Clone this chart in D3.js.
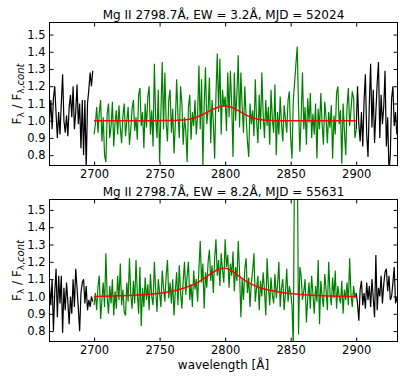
<!DOCTYPE html>
<meta charset="utf-8">
<style>
  body { margin: 0; background: #fff; }
  text { font-family: "DejaVu Sans", sans-serif; fill: #000; }
</style>
<body>
<script src="https://cdn.jsdelivr.net/npm/d3@7"></script>
<script>
// normalised flux, one value per 1 A pixel
var leftStart = 2666, lineStart = 2700, rightStart = 2900;

var topLeft = [
  1.00, 1.12, 0.95, 1.13, 1.20, 1.04, 0.90, 1.05, 0.92, 1.10,
  1.27, 1.00, 0.93, 1.03, 0.91, 1.08, 1.15, 1.02, 1.20, 0.95,
  1.05, 1.21, 0.98, 1.10, 0.84, 1.12, 0.80, 1.12, 0.72, 1.10,
  1.18, 1.28, 1.20, 1.29];

var topLine = [
  0.92, 0.98, 1.08, 0.93, 1.05, 1.12, 0.88, 1.02, 0.80, 0.76,
  1.04, 1.10, 0.90, 0.97, 1.11, 0.85, 0.99, 1.06, 0.92, 1.09,
  0.96, 0.87, 1.03, 1.10, 0.91, 1.00, 1.08, 0.86, 0.95, 1.07,
  1.12, 0.94, 1.02, 0.89, 1.15, 1.19, 0.97, 1.05, 0.84, 1.10,
  0.96, 1.14, 1.20, 0.92, 1.06, 0.85, 1.33, 1.02, 0.90, 1.18,
  0.76, 1.05, 1.34, 0.95, 1.28, 0.99, 0.88, 1.12, 1.18, 0.93,
  1.07, 0.81, 0.98, 1.24, 1.03, 0.90, 1.20, 1.10, 0.86, 1.02,
  0.94, 0.76, 1.08, 1.15, 0.89, 1.05, 0.97, 1.12, 0.92, 1.03,
  1.32, 0.95, 1.24, 0.74, 1.08, 1.31, 0.98, 1.06, 1.25, 0.87,
  1.12, 0.99, 0.78, 1.15, 1.39, 1.05, 1.36, 0.92, 1.18, 1.08,
  1.14, 0.94, 1.28, 1.02, 1.29, 1.10, 0.79, 1.28, 1.00, 1.16,
  1.38, 0.96, 1.28, 1.08, 0.93, 1.20, 1.03, 0.88, 0.79, 1.10,
  0.98, 1.06, 0.91, 1.24, 1.00, 0.87, 1.15, 0.95, 1.28, 1.04,
  0.90, 1.12, 0.97, 1.08, 0.86, 1.18, 1.01, 0.93, 1.21, 0.80,
  1.05, 0.92, 1.14, 0.98, 0.88, 1.09, 1.01, 0.93, 1.12, 1.17,
  0.90, 0.78, 1.12, 1.22, 1.33, 1.43, 1.08, 0.82, 1.02, 1.28,
  0.95, 1.08, 0.86, 1.13, 0.99, 1.16, 0.90, 1.04, 0.92, 1.10,
  0.78, 1.07, 0.95, 1.16, 0.98, 0.86, 1.11, 1.02, 0.87, 1.05,
  0.96, 1.09, 0.78, 1.03, 0.92, 1.16, 1.20, 0.98, 1.06, 0.75,
  1.10, 0.94, 0.80, 1.08, 1.19, 0.97, 1.06, 1.17, 1.13, 0.90,
  0.95];

var topRight = [
  0.95, 1.20, 0.98, 0.88, 1.05, 0.85, 1.12, 1.27, 0.92, 0.79,
  1.10, 1.33, 0.96, 1.18, 0.87, 1.05, 1.22, 1.34, 0.90, 1.15,
  0.98, 1.08, 1.29, 0.85, 1.02, 0.70, 0.80, 1.13, 1.20, 0.97,
  1.05, 0.92, 1.00];

var bottomLeft = [
  1.06, 0.95, 1.10, 0.80, 1.02, 1.16, 0.88, 1.12, 0.96, 1.12,
  0.79, 1.05, 0.92, 1.08, 0.97, 0.84, 1.00, 0.90, 1.10, 0.94,
  1.16, 1.05, 0.93, 0.80, 1.02, 1.08, 1.10, 0.96, 1.06, 0.92,
  0.98, 0.94, 1.00, 0.97];

var bottomLine = [
  0.95, 1.02, 0.92, 1.06, 1.12, 0.87, 0.98, 1.08, 0.94, 1.25,
  1.00, 0.90, 1.06, 0.96, 1.10, 0.89, 1.03, 0.93, 1.12, 0.98,
  1.19, 0.95, 1.04, 0.91, 0.89, 1.08, 0.97, 1.22, 1.01, 0.93,
  1.09, 0.96, 1.21, 1.02, 0.90, 1.17, 0.83, 1.05, 0.94, 1.11,
  0.98, 1.07, 0.92, 1.13, 1.00, 0.95, 1.20, 1.04, 0.91, 1.10,
  1.02, 0.94, 1.15, 1.05, 0.97, 1.12, 1.21, 0.99, 1.08, 0.96,
  1.10, 0.89, 1.03, 1.14, 0.95, 1.18, 1.02, 0.93, 1.09, 1.20,
  1.01, 1.12, 1.20, 0.98, 1.07, 0.94, 1.15, 1.04, 1.10, 0.97,
  1.16, 1.32, 1.08, 1.19, 0.93, 1.14, 1.05, 1.20, 1.27, 1.09,
  1.18, 1.02, 1.22, 1.33, 1.12, 1.21, 1.06, 1.25, 1.15, 1.08,
  1.33, 1.17, 1.24, 1.05, 1.19, 1.12, 1.26, 1.03, 1.17, 1.09,
  1.32, 1.14, 0.88, 1.10, 0.98, 1.16, 1.22, 1.02, 1.11, 0.94,
  1.08, 1.15, 1.25, 0.97, 1.05, 1.12, 0.92, 1.09, 1.00, 1.14,
  1.04, 0.89, 1.22, 1.06, 0.95, 1.11, 1.01, 0.96, 1.13, 0.99,
  1.07, 1.20, 0.94, 1.05, 1.10, 0.92, 1.02, 1.16, 0.97, 1.06,
  1.02, 0.95, 0.72, 1.90, 2.00, 1.90, 0.78, 1.17, 1.12, 0.98,
  1.03, 1.10, 0.85, 0.99, 1.08, 0.93, 1.12, 1.01, 0.90, 1.06,
  0.97, 1.21, 0.84, 1.09, 1.00, 0.94, 1.13, 1.04, 0.92, 1.20,
  1.02, 0.95, 1.11, 0.99, 1.15, 0.93, 1.06, 1.00, 0.96, 1.09,
  0.90, 1.04, 0.98, 1.08, 0.95, 1.22, 1.01, 0.94, 1.06, 0.99,
  1.02];

var bottomRight = [
  1.02, 0.96, 0.86, 1.04, 1.09, 0.95, 1.02, 0.93, 1.08, 0.98,
  1.06, 0.94, 1.10, 0.99, 0.88, 1.24, 0.92, 1.05, 1.00, 1.12,
  0.96, 1.07, 1.14, 1.16, 1.03, 1.12, 0.98, 1.00, 1.08, 1.17,
  0.96, 0.99, 0.97];

// fitted line profile, every 5 A from 2700 to 2900
var modelWave = d3.range(2700, 2901, 5);
var topModel = [
  1.000, 1.000, 1.000, 1.000, 1.000, 1.000, 1.000, 1.000, 1.000, 1.000,
  1.000, 1.001, 1.001, 1.003, 1.006, 1.013, 1.026, 1.044, 1.064, 1.080,
  1.087, 1.078, 1.058, 1.037, 1.020, 1.009, 1.004, 1.001, 1.000, 1.000,
  1.000, 1.000, 1.000, 1.000, 1.000, 1.000, 1.000, 1.000, 1.000, 1.000,
  1.000];
var bottomModel = [
  1.000, 1.001, 1.002, 1.003, 1.004, 1.005, 1.007, 1.009, 1.011, 1.014,
  1.018, 1.024, 1.031, 1.040, 1.052, 1.067, 1.086, 1.110, 1.136, 1.157,
  1.163, 1.148, 1.120, 1.093, 1.071, 1.055, 1.043, 1.034, 1.027, 1.021,
  1.017, 1.013, 1.010, 1.008, 1.006, 1.004, 1.003, 1.002, 1.001, 1.000,
  1.000];

var titles = ["Mg II 2798.7\u00c5, EW = 3.2\u00c5, MJD = 52024",
              "Mg II 2798.7\u00c5, EW = 8.2\u00c5, MJD = 55631"];
var xTicks = [2700, 2750, 2800, 2850, 2900];
var yTicks = [0.8, 0.9, 1.0, 1.1, 1.2, 1.3, 1.4, 1.5];

var width = 407, height = 382;
var left = 49.5, right = 397.5;

var svg = d3.select("body").append("svg")
  .attr("width", width)
  .attr("height", height);

var x = d3.scaleLinear().domain([2666, 2931.5]).range([left, right]);

function pts(start, values) {
  return values.map(function(v, i) { return [start + i, v]; });
}

var panels = [
  {top: 22.5, bottom: 165.5, yDomain: [0.74, 1.57], title: titles[0],
   black: [pts(leftStart, topLeft), pts(rightStart, topRight)],
   green: pts(lineStart, topLine), model: topModel},
  {top: 199.5, bottom: 341.5, yDomain: [0.74, 1.56], title: titles[1],
   black: [pts(leftStart, bottomLeft), pts(rightStart, bottomRight)],
   green: pts(lineStart, bottomLine), model: bottomModel}
];

panels.forEach(function(p, k) {
  var y = d3.scaleLinear().domain(p.yDomain).range([p.bottom, p.top]);
  var g = svg.append("g");

  g.append("clipPath").attr("id", "clip" + k)
    .append("rect")
    .attr("x", left).attr("y", p.top)
    .attr("width", right - left).attr("height", p.bottom - p.top);

  var line = d3.line()
    .x(function(d) { return x(d[0]); })
    .y(function(d) { return y(d[1]); });

  var plot = g.append("g").attr("clip-path", "url(#clip" + k + ")");

  p.black.forEach(function(seg) {
    plot.append("path").datum(seg)
      .attr("d", line)
      .attr("fill", "none")
      .attr("stroke", "#000")
      .attr("stroke-width", 1.2);
  });

  plot.append("path").datum(p.green)
    .attr("d", line)
    .attr("fill", "none")
    .attr("stroke", "#008000")
    .attr("stroke-width", 1.2);

  plot.append("path")
    .datum(modelWave.map(function(w, i) { return [w, p.model[i]]; }))
    .attr("d", line.curve(d3.curveMonotoneX))
    .attr("fill", "none")
    .attr("stroke", "#ff0000")
    .attr("stroke-width", 1.5);

  // ticks on all four sides, pointing in
  var fmt = d3.format(".1f");
  g.append("g").attr("transform", "translate(" + left + ",0)")
    .call(d3.axisLeft(y).tickValues(yTicks).tickFormat(fmt)
      .tickSizeInner(-4).tickSizeOuter(0).tickPadding(4));
  g.append("g").attr("transform", "translate(" + right + ",0)")
    .call(d3.axisRight(y).tickValues(yTicks).tickFormat("")
      .tickSizeInner(-4).tickSizeOuter(0));
  g.append("g").attr("transform", "translate(0," + p.bottom + ")")
    .call(d3.axisBottom(x).tickValues(xTicks).tickFormat(d3.format("d"))
      .tickSizeInner(-4).tickSizeOuter(0).tickPadding(4));
  g.append("g").attr("transform", "translate(0," + p.top + ")")
    .call(d3.axisTop(x).tickValues(xTicks).tickFormat("")
      .tickSizeInner(-4).tickSizeOuter(0));

  g.selectAll(".domain").remove();
  g.selectAll(".tick line").attr("stroke", "#000");
  g.selectAll(".tick text")
    .style("font-family", "'DejaVu Sans', sans-serif")
    .style("font-size", "11.5px")
    .attr("fill", "#000");

  g.append("rect")
    .attr("x", left).attr("y", p.top)
    .attr("width", right - left).attr("height", p.bottom - p.top)
    .attr("fill", "none")
    .attr("stroke", "#000")
    .attr("stroke-width", 1);

  g.append("text")
    .attr("x", (left + right) / 2)
    .attr("y", p.top - 4)
    .attr("text-anchor", "middle")
    .style("font-size", "12px")
    .text(p.title);

  var yl = g.append("text")
    .attr("transform", "translate(21," + (p.top + p.bottom) / 2 + ") rotate(-90)")
    .attr("text-anchor", "middle")
    .style("font-size", "12px");
  yl.append("tspan").text("F");
  yl.append("tspan").attr("dy", 3).style("font-size", "9px").text("\u03bb");
  yl.append("tspan").attr("dy", -3).text(" / F");
  yl.append("tspan").attr("dy", 3).style("font-size", "9px").text("\u03bb,");
  yl.append("tspan").style("font-size", "10px").style("font-style", "italic").text("cont");
});

svg.append("text")
  .attr("x", (left + right) / 2)
  .attr("y", 369)
  .attr("text-anchor", "middle")
  .style("font-size", "12px")
  .text("wavelength [\u00c5]");
</script>
</body>
